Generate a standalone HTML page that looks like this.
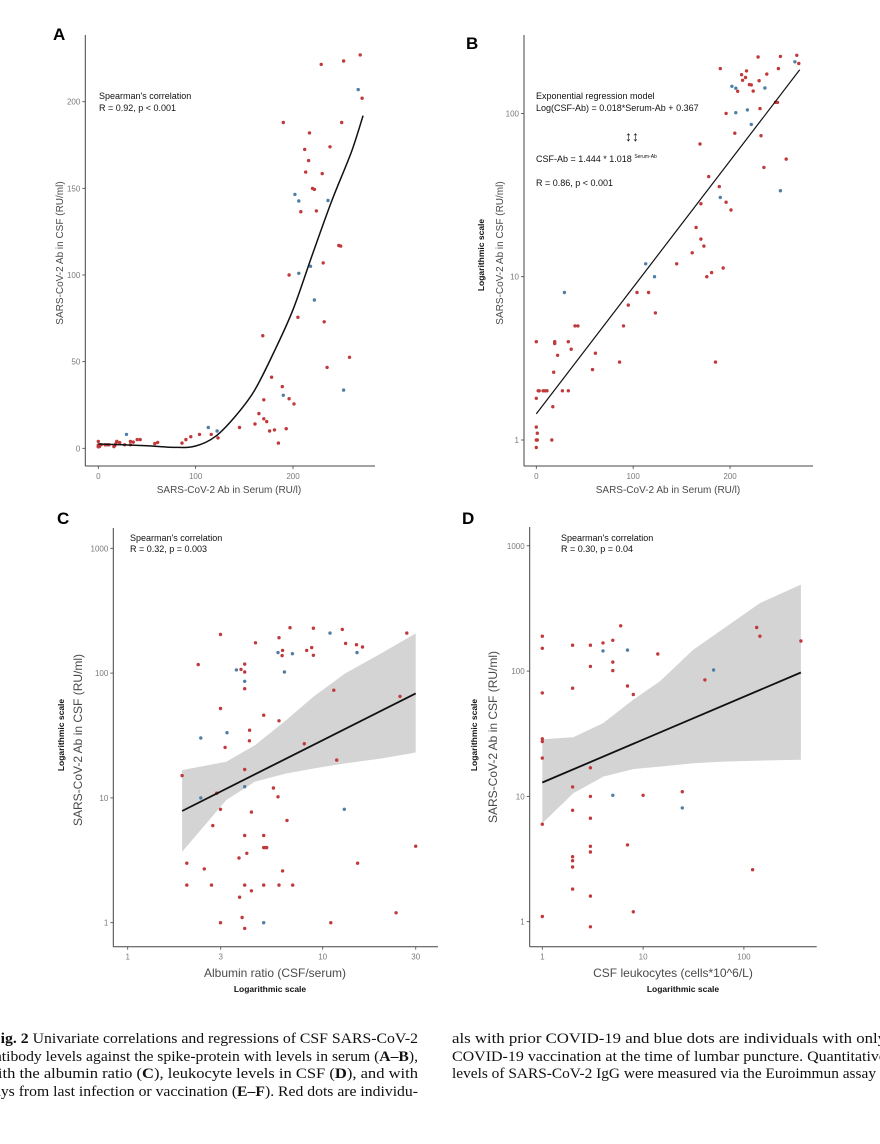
<!DOCTYPE html>
<html><head><meta charset="utf-8"><style>
html,body{margin:0;padding:0;background:#fff;}
svg{display:block;}
text{font-family:"Liberation Sans",Arial,sans-serif;}
.tick{fill:#7a7a7a;font-size:8px;}
.ttl{fill:#4a4a4a;}
.ann{fill:#111;font-size:9px;}
.cap{font-family:"Liberation Serif","Times New Roman",serif;font-size:15px;fill:#111;}
</style></head><body>
<svg id="fig" width="880" height="1144" viewBox="0 0 880 1144" xmlns="http://www.w3.org/2000/svg">
<rect width="880" height="1144" fill="#fff"/>
<g id="static">
<text x="53" y="40" font-size="17" font-weight="bold">A</text>
<text x="466" y="49" font-size="17" font-weight="bold">B</text>
<text x="57" y="524" font-size="17" font-weight="bold">C</text>
<text x="462" y="524" font-size="17" font-weight="bold">D</text>

<text class="ann" x="99" y="99">Spearman's correlation</text>
<text class="ann" x="99" y="111">R = 0.92, p &lt; 0.001</text>
<text class="ttl" x="229" y="493" font-size="10" text-anchor="middle">SARS-CoV-2 Ab in Serum (RU/l)</text>
<text class="ttl" transform="translate(63,253) rotate(-90)" font-size="10" text-anchor="middle">SARS-CoV-2 Ab in CSF (RU/ml)</text>

<text class="ann" x="536" y="99">Exponential regression model</text>
<text class="ann" x="536" y="111">Log(CSF-Ab) = 0.018*Serum-Ab + 0.367</text>
<text x="632" y="141" font-size="14" text-anchor="middle" fill="#111">↕↕</text>
<text class="ann" x="536" y="162">CSF-Ab = 1.444 * 1.018 <tspan font-size="5" dy="-4">Serum-Ab</tspan></text>
<text class="ann" x="536" y="186">R = 0.86, p &lt; 0.001</text>
<text class="ttl" x="668" y="493" font-size="10" text-anchor="middle">SARS-CoV-2 Ab in Serum (RU/l)</text>
<text class="ttl" transform="translate(503,253) rotate(-90)" font-size="10" text-anchor="middle">SARS-CoV-2 Ab in CSF (RU/ml)</text>
<text transform="translate(484,255) rotate(-90)" font-size="8.5" font-weight="bold" fill="#111" text-anchor="middle">Logarithmic scale</text>

<text class="ann" x="130" y="541">Spearman's correlation</text>
<text class="ann" x="130" y="552">R = 0.32, p = 0.003</text>
<text class="ttl" x="275" y="977" font-size="12" text-anchor="middle">Albumin ratio (CSF/serum)</text>
<text x="270" y="992" font-size="8.5" font-weight="bold" fill="#111" text-anchor="middle">Logarithmic scale</text>
<text class="ttl" transform="translate(82,740) rotate(-90)" font-size="12" text-anchor="middle">SARS-CoV-2 Ab in CSF (RU/ml)</text>
<text transform="translate(64,735) rotate(-90)" font-size="8.5" font-weight="bold" fill="#111" text-anchor="middle">Logarithmic scale</text>

<text class="ann" x="561" y="541">Spearman's correlation</text>
<text class="ann" x="561" y="552">R = 0.30, p = 0.04</text>
<text class="ttl" x="673" y="977" font-size="12" text-anchor="middle">CSF leukocytes (cells*10^6/L)</text>
<text x="683" y="992" font-size="8.5" font-weight="bold" fill="#111" text-anchor="middle">Logarithmic scale</text>
<text class="ttl" transform="translate(497,737) rotate(-90)" font-size="12" text-anchor="middle">SARS-CoV-2 Ab in CSF (RU/ml)</text>
<text transform="translate(477,735) rotate(-90)" font-size="8.5" font-weight="bold" fill="#111" text-anchor="middle">Logarithmic scale</text>

<g>
<text class="cap" x="-9" y="1043" textLength="427" lengthAdjust="spacingAndGlyphs"><tspan font-weight="bold">Fig. 2</tspan> Univariate correlations and regressions of CSF SARS-CoV-2</text>
<text class="cap" x="-13" y="1061" textLength="431" lengthAdjust="spacingAndGlyphs">antibody levels against the spike-protein with levels in serum (<tspan font-weight="bold">A–B</tspan>),</text>
<text class="cap" x="-14" y="1078" textLength="432" lengthAdjust="spacingAndGlyphs">with the albumin ratio (<tspan font-weight="bold">C</tspan>), leukocyte levels in CSF (<tspan font-weight="bold">D</tspan>), and with</text>
<text class="cap" x="-14" y="1096" textLength="432" lengthAdjust="spacingAndGlyphs">days from last infection or vaccination (<tspan font-weight="bold">E–F</tspan>). Red dots are individu-</text>
<text class="cap" x="452" y="1043" textLength="434" lengthAdjust="spacingAndGlyphs">als with prior COVID-19 and blue dots are individuals with only</text>
<text class="cap" x="452" y="1061" textLength="434" lengthAdjust="spacingAndGlyphs">COVID-19 vaccination at the time of lumbar puncture. Quantitative</text>
<text class="cap" x="452" y="1078" textLength="424" lengthAdjust="spacingAndGlyphs">levels of SARS-CoV-2 IgG were measured via the Euroimmun assay</text>
</g>
</g>
</svg>
<script>
// ---- Panels A & B data (serum vs CSF antibodies) ----
const serumAB = [0,0,0,1,0,1,0,2,3,7,9,11,16,17,18,19,19,22,27,33,33,36,40,43,58,61,86,90,95,104,116,123,113,122,29,145,161,165,169,170,170,173,176,178,181,185,189,190,190,193,196,196,201,202,206,206,205,208,212,213,216,217,218,220,222,222,224,229,230,231,232,235,236,238,247,249,250,252,252,258,267,269,271];
const csfAB = [4,1.8,1.2,1.1,1,1,0.9,2,2,2,2,2,1,1.6,2.6,4,3.9,3.3,2,2,4,3.6,5,5,2.7,3.4,3,5,6.7,8,8,6,12,10,8,12,14,20,65,28,17,15.4,10,41,10.6,3,35.6,30.6,188,11.3,28.6,100,25.6,146.5,142.7,101,75.6,136.5,172.5,159.4,166,182,105,150,149.4,85.6,137,221.5,158.5,107,73,46.7,143,174,117,116.7,188,33.6,223.5,52.5,207,227,202];
const groupAB = ['r','r','r','r','r','r','r','r','r','r','r','r','r','r','r','r','r','r','r','r','r','r','r','r','r','r','r','r','r','r','r','r','b','b','b','r','r','r','r','r','r','r','r','r','r','r','r','b','r','r','r','r','r','b','b','b','r','r','r','r','r','r','b','r','r','b','r','r','r','r','r','r','b','r','r','r','r','b','r','r','b','r','r'];
const loessX = [0,25,50,80,100,120,140,160,180,200,220,240,260,272];
const loessY = [2.5,2,1.5,0.5,1.3,6.7,18,33,55,80,112,143,171,192];
const expBase = [1.444];
const expRate = [1.018];
const expRange = [0,272];
const ticksAx = [0,100,200];
const ticksAy = [0,50,100,150,200];
const ticksBx = [0,100,200];
const ticksBy = [1,10,100];
// ---- Panel C data ----
const albumin = [1.90,2.01,2.01,2.30,2.37,2.37,2.47,2.69,2.73,2.86,2.99,2.99,2.99,2.99,3.16,3.23,3.61,3.72,3.75,3.81,3.86,3.98,3.98,3.98,3.98,3.98,3.98,3.98,3.98,3.98,4.08,4.21,4.22,4.31,4.31,4.52,4.98,4.98,4.98,4.98,4.98,5.08,5.16,5.59,5.90,5.97,5.97,5.90,5.97,6.19,6.23,6.23,6.36,6.56,6.80,6.99,7.02,8.05,8.28,8.78,8.96,8.96,10.9,11.0,11.4,11.8,12.6,12.9,13.1,14.9,15.0,15.1,16.0,23.8,24.9,27.0,30.0];
const csfC = [15.1,3.0,2.0,117,30.2,10,2.7,2.0,6.0,10.9,204,52,8.1,1,25.4,33.3,106,3.3,1.6,107,1.1,118,102,86,75,16.9,12.3,5.0,2.0,0.9,3.6,28.7,34.9,7.7,1.8,175,46,5.0,4.0,2.0,1,4.0,4.0,12,146,192,41.5,10.2,2.0,138,152,2.6,102,6.6,231,143,2.0,27.2,152,160,229,139,209,1,73,20.1,224,8.1,173,169,146,3.0,162,1.2,65,209,4.1];
const groupC = ['r','r','r','r','b','b','r','r','r','r','r','r','r','r','r','b','b','r','r','r','r','r','r','b','r','r','b','r','r','r','r','r','r','r','r','r','r','r','r','r','b','r','r','r','b','r','r','r','r','r','r','r','b','r','r','b','r','r','r','r','r','r','b','r','r','r','r','b','r','r','b','r','r','r','r','r','r'];
const fitCx = [1.9,30];
const fitCy = [7.85,68.7];
const bandCx = [1.9,3.2,4.5,6.5,9,13,20,30];
const bandCup = [16.7,19.5,26.5,42,65,99,144,208];
const bandClo = [3.7,9.6,13.5,15.7,17.2,18.9,20.7,23.1];
const ticksCx = [1,3,10,30];
const ticksCy = [1,10,100,1000];
// ---- Panel D data ----
const leuko = [1,1,1,1,1,1,1,1,2,2,2,2,2,2,2,2,3,3,3,3,3,3,3,3,3,4,4,5,5,5,5,6,7,7,7,8,8,10,14,24.5,24.5,41,50,122,134,144,368];
const csfD = [190,152,67,28.8,27.4,20.2,6.0,1.1,161,73,11.9,7.75,3.3,3.07,2.73,1.82,161,109,16.9,10,6.7,4.0,3.6,1.6,0.91,168,145,176,118,101,10.2,230,147,76,4.1,65,1.2,10.2,137,10.9,8.1,85,102,2.6,223,190,174];
const groupD = ['r','r','r','r','r','r','r','r','r','r','r','r','r','r','r','r','r','r','r','r','r','r','r','r','r','r','b','r','r','r','b','r','b','r','r','r','r','r','r','r','b','r','b','r','r','r','r'];
const fitDx = [1,368];
const fitDy = [12.9,97.5];
const bandDx = [1,2.03,4.03,7.97,14.7,31.4,67.2,144,368];
const bandDup = [28.6,29.7,38.5,59,83,148,227,349,490];
const bandDlo = [6.1,10.6,14.4,16.5,17.3,18.4,19,19.3,19.6];
const ticksDx = [1,10,100];
const ticksDy = [1,10,100,1000];

const NS = 'http://www.w3.org/2000/svg';
const svg = document.getElementById('fig');
const L = Math.log10;
const RED = '#c0393b', BLUE = '#4f7fa6';

function mk(tag, attrs, parent) {
  const e = document.createElementNS(NS, tag);
  for (const k in attrs) e.setAttribute(k, attrs[k]);
  (parent || svg).appendChild(e);
  return e;
}

function axes(p, name) {
  const g = mk('g', {});
  
  
  const yl = mk('line', {x1:p.left, y1:p.top, x2:p.left, y2:p.bottom, stroke:'#444', 'stroke-width':1}, g);
  
  
  const xl = mk('line', {x1:p.left, y1:p.bottom, x2:p.right, y2:p.bottom, stroke:'#444', 'stroke-width':1}, g);
  
  
  p.xt.forEach(v => {
    const x = p.sx(v);
    mk('line', {x1:x, y1:p.bottom, x2:x, y2:p.bottom + 3, stroke:'#444', 'stroke-width':0.8}, g);
    const t = mk('text', {x:x, y:p.bottom + 13, 'text-anchor':'middle', class:'tick'}, g);
    
    
    t.textContent = v;
  });
  p.yt.forEach(v => {
    const y = p.sy(v);
    mk('line', {x1:p.left - 3, y1:y, x2:p.left, y2:y, stroke:'#444', 'stroke-width':0.8}, g);
    const t = mk('text', {x:p.left - 5, y:y + 3, 'text-anchor':'end', class:'tick'}, g);
    
    
    t.textContent = v;
  });
}

function band(p, xs, lo, up, name) {
  let d = '';
  xs.forEach((v, i) => { d += (i ? 'L' : 'M') + p.sx(v).toFixed(1) + ',' + p.sy(up[i]).toFixed(1); });
  for (let i = xs.length - 1; i >= 0; i--) d += 'L' + p.sx(xs[i]).toFixed(1) + ',' + p.sy(lo[i]).toFixed(1);
  const e = mk('path', {d:d + 'Z', fill:'#d4d4d4'});
  
  
}

function line(p, xs, ys, name, w) {
  const pts = xs.map((v, i) => p.sx(v).toFixed(1) + ',' + p.sy(ys[i]).toFixed(1)).join(' ');
  const e = mk('polyline', {points:pts, fill:'none', stroke:'#111', 'stroke-width':w || 1.6, 'stroke-linejoin':'round'});
  
  
}

function smooth(p, xs, ys, name, w) {
  const P = xs.map((v, i) => [p.sx(v), p.sy(ys[i])]);
  let d = 'M' + P[0][0].toFixed(1) + ',' + P[0][1].toFixed(1);
  for (let i = 0; i < P.length - 1; i++) {
    const p0 = P[Math.max(0, i - 1)], p1 = P[i], p2 = P[i + 1], p3 = P[Math.min(P.length - 1, i + 2)];
    const c1 = [p1[0] + (p2[0] - p0[0]) / 6, p1[1] + (p2[1] - p0[1]) / 6];
    const c2 = [p2[0] - (p3[0] - p1[0]) / 6, p2[1] - (p3[1] - p1[1]) / 6];
    d += 'C' + c1[0].toFixed(1) + ',' + c1[1].toFixed(1) + ' ' + c2[0].toFixed(1) + ',' + c2[1].toFixed(1) + ' ' + p2[0].toFixed(1) + ',' + p2[1].toFixed(1);
  }
  const e = mk('path', {d:d, fill:'none', stroke:'#111', 'stroke-width':w || 1.6});
  
  
}

function dots(p, xs, ys, gr, name) {
  const g = mk('g', {});
  
  
  xs.forEach((v, i) => {
    const c = mk('circle', {cx:p.sx(v).toFixed(1), cy:p.sy(ys[i]).toFixed(1), r:1.7, fill: gr[i] === 'b' ? BLUE : RED}, g);
    
    
  });
}

// Panel A
const pA = {left:85.3, right:375, top:35, bottom:466, sx:v => 98.3 + v * 0.9735, sy:v => 448.3 - v * 1.733, xt:ticksAx, yt:ticksAy};
axes(pA, 'panel-a');
dots(pA, serumAB, csfAB, groupAB, 'panel-a');
smooth(pA, loessX, loessY, 'panel-a-loess-curve', 1.5);

// Panel B
const pB = {left:524, right:813, top:35, bottom:466, sx:v => 536.3 + v * 0.9685, sy:v => 440 - L(v) * 163.3, xt:ticksBx, yt:ticksBy};
axes(pB, 'panel-b');
dots(pB, serumAB, csfAB, groupAB, 'panel-b');
line(pB, expRange, expRange.map(s => expBase[0] * Math.pow(expRate[0], s)), 'panel-b-regression-line', 1.2);

// Panel C
const pC = {left:113.3, right:438, top:528, bottom:946.7, sx:v => 127.7 + L(v) * 195, sy:v => 922.7 - L(v) * 124.8, xt:ticksCx, yt:ticksCy};
band(pC, bandCx, bandClo, bandCup, 'panel-c-confidence-band');
axes(pC, 'panel-c');
dots(pC, albumin, csfC, groupC, 'panel-c');
line(pC, fitCx, fitCy, 'panel-c-regression-line', 1.8);

// Panel D
const pD = {left:529.7, right:816.7, top:527, bottom:946.7, sx:v => 542.3 + L(v) * 100.8, sy:v => 921.7 - L(v) * 125.3, xt:ticksDx, yt:ticksDy};
band(pD, bandDx, bandDlo, bandDup, 'panel-d-confidence-band');
axes(pD, 'panel-d');
dots(pD, leuko, csfD, groupD, 'panel-d');
line(pD, fitDx, fitDy, 'panel-d-regression-line', 1.8);

svg.appendChild(document.getElementById('static'));
</script>
</body></html>
